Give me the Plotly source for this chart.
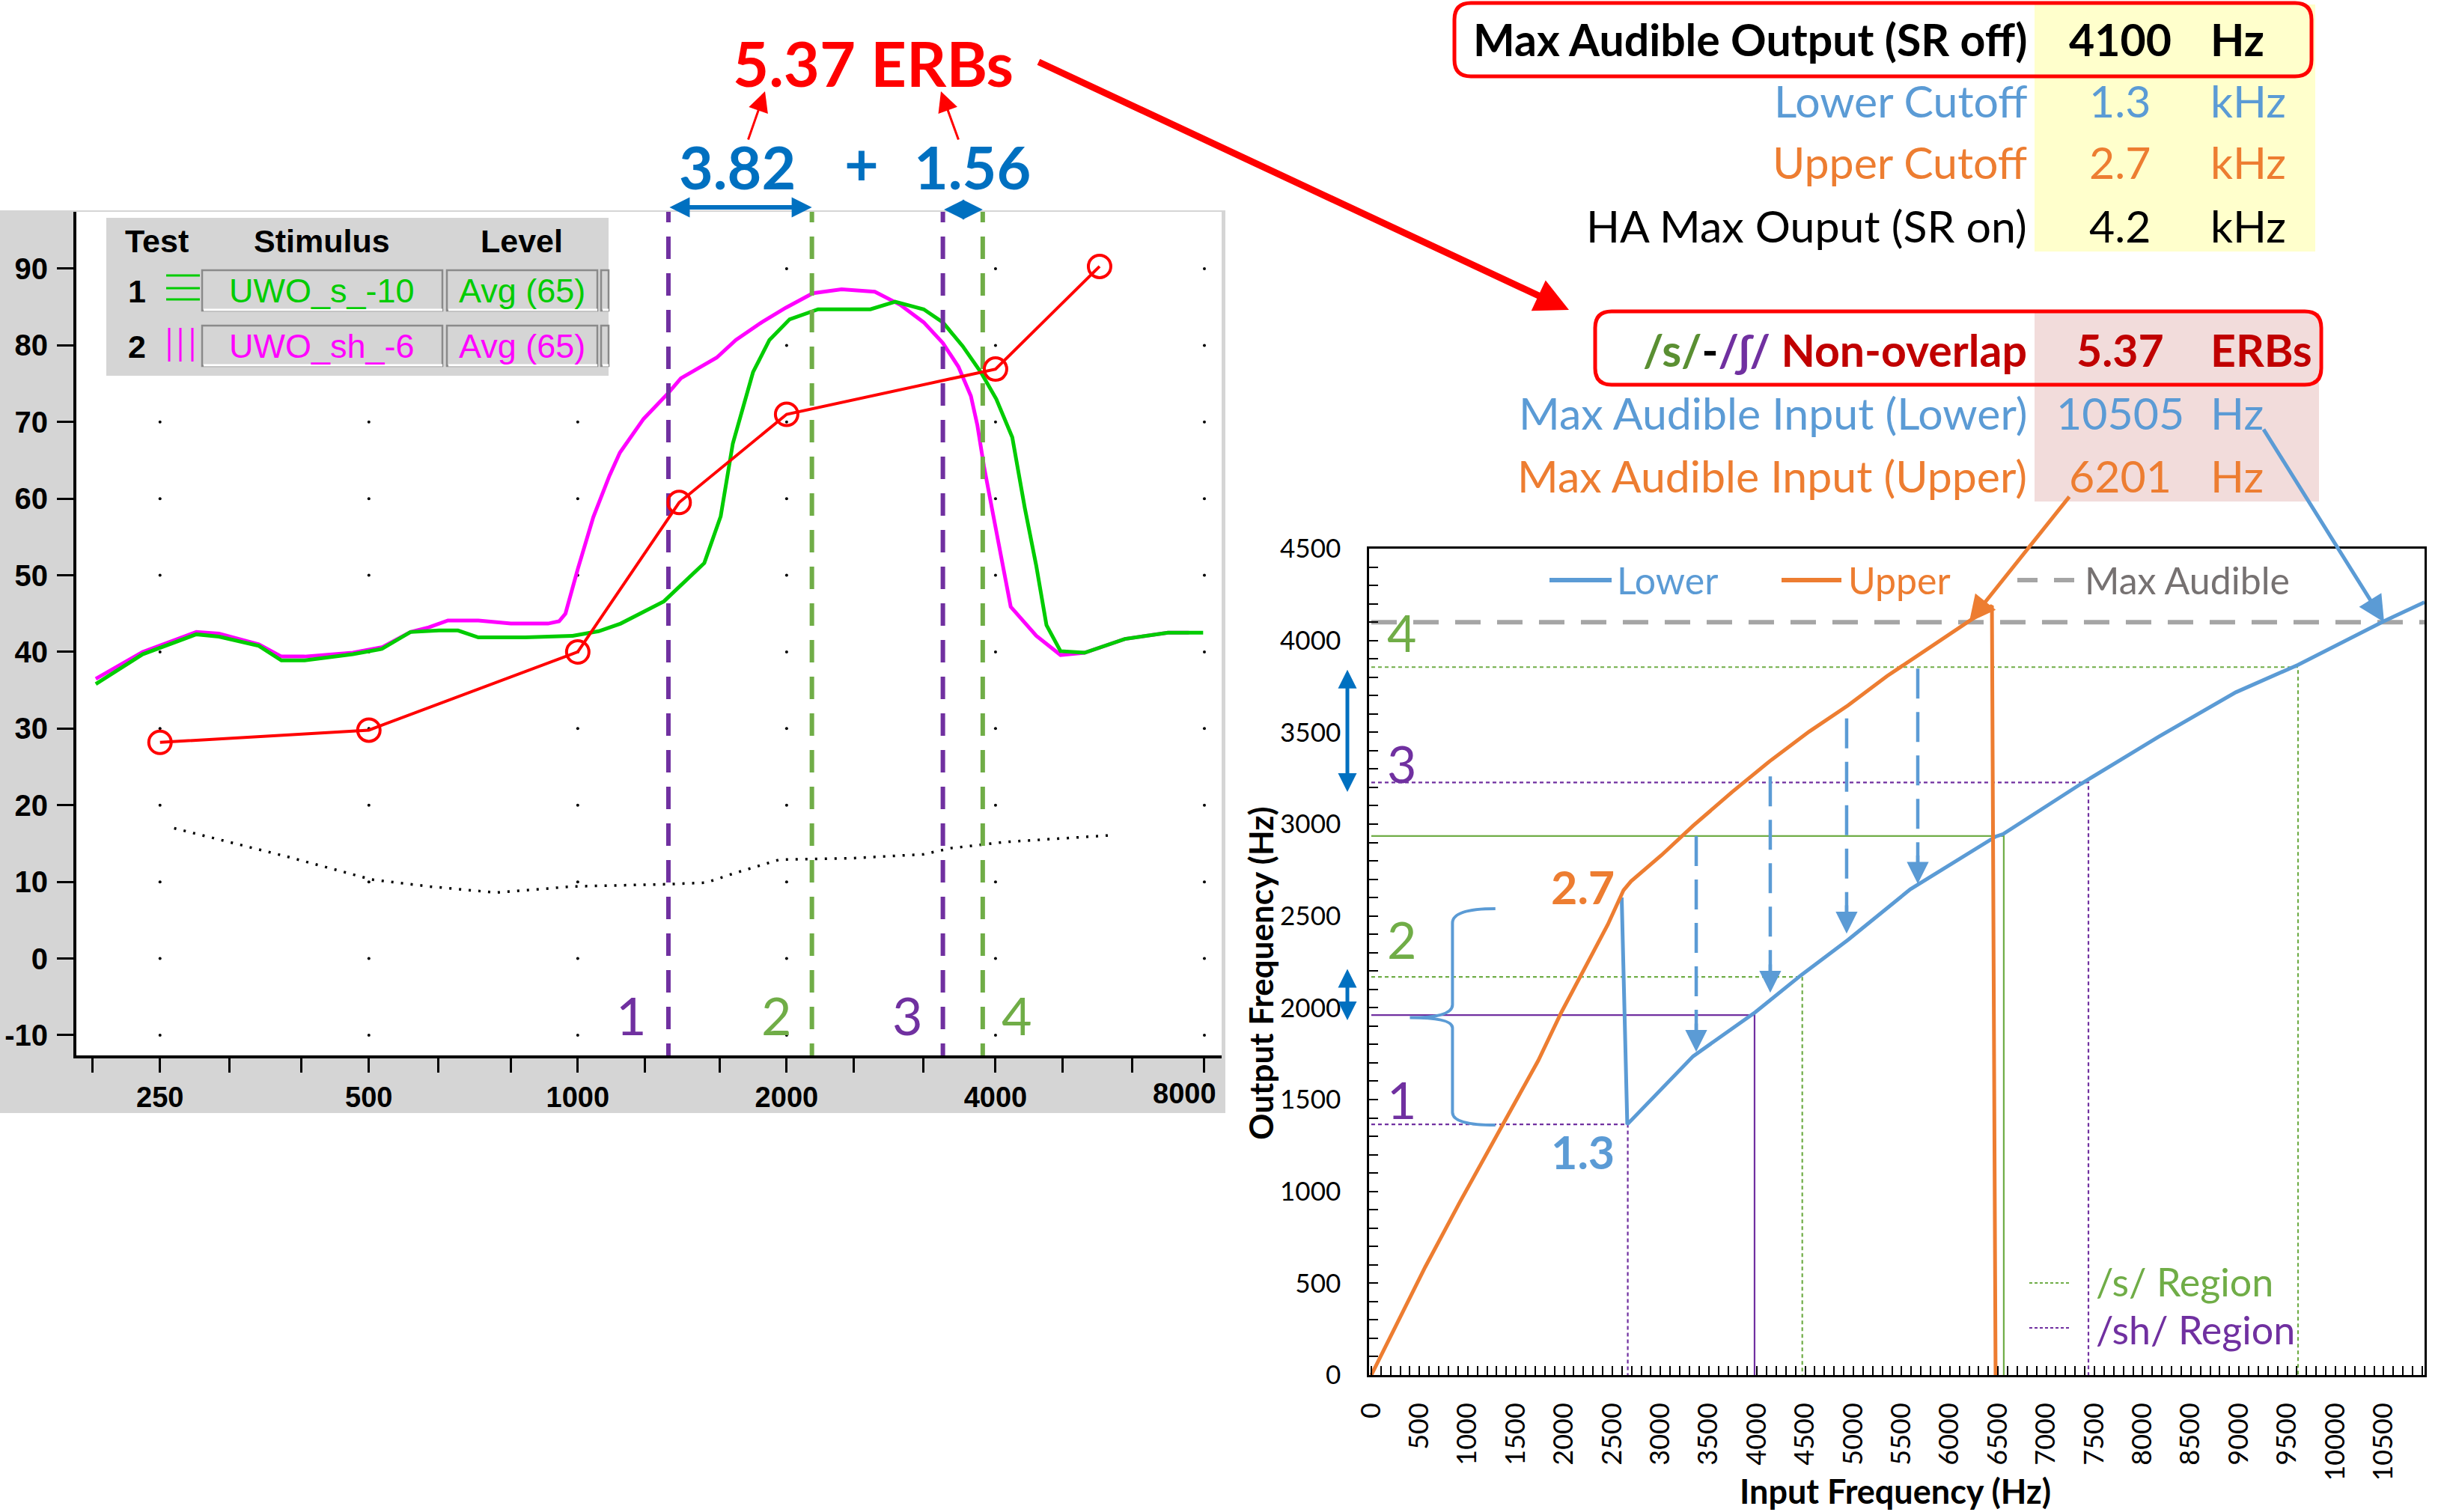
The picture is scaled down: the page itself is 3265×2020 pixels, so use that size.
import numpy as np
import plotly.graph_objects as go

W, H = 3265, 2020
LATO = "Lato, Noto Sans, sans-serif"
ARIAL = "Liberation Sans, Arial, sans-serif"
PURPLE = "#7030a0"
GREEN = "#70ad47"
BLUE = "#5b9bd5"
DBLUE = "#0070c0"
ORANGE = "#ed7d31"
DARKRED = "#c00000"
GREY = "#a5a5a5"

# ---------------- LEFT PANEL DATA (aided speech spectra) ----------------
s_freq = [202, 236, 282, 304, 347, 374, 404, 438, 474, 522, 574, 631, 672, 719, 840, 983,
          1072, 1153, 1331, 1522, 1607, 1673, 1789, 1889, 2020, 2220, 2641, 2867, 3152, 3359,
          3587, 3810, 4010, 4229, 4408, 4580, 4737, 4963, 5376, 6146, 7089, 7967]
s_db = [35.8, 39.7, 42.3, 42.0, 40.8, 38.9, 38.9, 39.3, 39.7, 40.4, 42.6, 42.8, 42.8, 41.9, 41.9, 42.1,
        42.7, 43.7, 46.6, 51.6, 57.7, 67.2, 76.5, 80.7, 83.4, 84.7, 84.7, 85.7, 84.7, 83.0,
        79.9, 76.5, 73.0, 68.0, 58.8, 51.2, 43.5, 40.1, 39.9, 41.7, 42.5, 42.5]
sh_freq = [202, 236, 282, 304, 347, 374, 404, 438, 474, 522, 574, 610, 650, 719, 801, 906, 940, 960,
           1000, 1053, 1111, 1150, 1244, 1351, 1408, 1586, 1690, 1841, 1994, 2182, 2400, 2680, 2914,
           3152, 3359, 3537, 3686, 3766, 3850, 3965, 4207, 4580, 4963, 5376, 6146, 7089, 7600]
sh_db = [36.5, 40.0, 42.6, 42.4, 41.0, 39.4, 39.4, 39.6, 39.9, 40.6, 42.6, 43.2, 44.1, 44.1, 43.7, 43.7, 44.0, 45.0,
         50.8, 57.6, 63.0, 66.0, 70.4, 73.8, 75.7, 78.4, 80.7, 83.0, 84.9, 86.8, 87.3, 87.0, 85.3,
         83.0, 80.3, 77.2, 73.4, 69.6, 64.2, 58.1, 45.9, 42.1, 39.6, 39.9, 41.7, 42.5, 42.5]
thr_freq = [250, 500, 1000, 1400, 2000, 4000, 5650]
thr_db = [28.2, 29.8, 40.0, 59.5, 71.0, 76.9, 90.3]
noise_freq = [262, 325, 381, 505, 611, 762, 984, 1352, 1531, 1691, 1953, 2500, 3152, 3450, 4125, 5909]
noise_db = [17.0, 14.9, 13.3, 10.3, 9.4, 8.6, 9.4, 9.7, 9.9, 11.2, 12.9, 13.1, 13.6, 14.4, 15.2, 16.1]
bound_freq = [1351, 2175, 3359, 3834]
bound_label = ["1", "2", "3", "4"]
bound_color = [PURPLE, GREEN, PURPLE, GREEN]
erb_parts = ["3.82", "1.56"]
erb_total = "5.37 ERBs"
left_xticks = [200, 250, 315, 400, 500, 630, 800, 1000, 1250, 1600, 2000, 2500, 3150, 4000, 5000, 6300, 8000]
left_xlabels = [250, 500, 1000, 2000, 4000, 8000]
left_yticks = list(range(-10, 100, 10))
leg_tests = ["1", "2"]
leg_stimuli = ["UWO_s_-10", "UWO_sh_-6"]
leg_levels = ["Avg (65)", "Avg (65)"]
leg_colors = ["#00cc00", "#ff00ff"]

# ---------------- RIGHT PANEL DATA (frequency lowering) ----------------
upper_in = [0, 559, 924, 1328, 1731, 1972, 2213, 2453, 2616, 2694, 3012, 3338, 3742, 4138, 4542,
            4946, 5349, 5753, 6157, 6437, 6475]
upper_out = [0, 588, 947, 1330, 1712, 1976, 2214, 2453, 2640, 2689, 2832, 2991, 3175, 3345, 3504,
             3647, 3806, 3949, 4091, 4189, 0]
lower_in = [2597, 2655, 3338, 3983, 4464, 4946, 5590, 6475, 6553, 7360, 8168, 8967, 9612, 10497, 10924]
lower_out = [2600, 1365, 1736, 1976, 2180, 2370, 2645, 2932, 2946, 3219, 3476, 3718, 3867, 4104, 4209]
max_aud_in = [0, 10924]
s_dotted = [(9612, 3855), (4470, 2168)]
s_solid = [(6560, 2935)]
sh_dotted = [(7438, 3227), (2660, 1365)]
sh_solid = [(3975, 1960)]
shift_in = [3370, 4138, 4930, 5668]
shift_from = [2935, 3260, 3576, 3847]
shift_to = [1760, 2082, 2404, 2675]
span_ranges = [(3175, 3847), (1932, 2217)]
region_nums = ["4", "3", "2", "1"]
region_num_y = [4046, 3333, 2376, 1504]
region_num_col = [GREEN, PURPLE, GREEN, PURPLE]
cut_labels = ["2.7", "1.3"]
cut_label_y = [2661, 1218]
cut_label_col = [ORANGE, BLUE]

# ---------------- TABLE ----------------
tbl_labels = ["Max Audible Output (SR off)", "Lower Cutoff", "Upper Cutoff", "HA Max Ouput (SR on)",
              "<span style='color:#5a8f32'>/s/</span><span style='color:black'>-</span>"
              "<span style='color:#7030a0'>/ʃ/</span> Non-overlap",
              "Max Audible Input (Lower)", "Max Audible Input (Upper)"]
tbl_values = ["4100", "1.3", "2.7", "4.2", "5.37", "10505", "6201"]
tbl_units = ["Hz", "kHz", "kHz", "kHz", "ERBs", "Hz", "Hz"]
tbl_colors = ["black", BLUE, ORANGE, "black", DARKRED, BLUE, ORANGE]
tbl_bold = [True, False, False, False, True, False, False]
tbl_row_y = [52, 134, 217, 301, 468, 551, 635]

max_audible_out = float(tbl_values[0])
max_in_lower = float(tbl_values[5])
max_in_upper = float(tbl_values[6])


def PX(x):
    return x / W


def PY(y):
    return 1 - y / H


fig = go.Figure()

# ---- left panel traces ----
gx, gy = np.meshgrid(left_xlabels, left_yticks)
fig.add_trace(go.Scatter(x=gx.ravel(), y=gy.ravel(), mode="markers", xaxis="x", yaxis="y",
                         marker=dict(size=4, color="black"), hoverinfo="skip"))
fig.add_trace(go.Scatter(x=noise_freq, y=noise_db, mode="lines", xaxis="x", yaxis="y",
                         line=dict(color="black", width=3.5, dash="3px,10px")))
fig.add_trace(go.Scatter(x=sh_freq, y=sh_db, mode="lines", name=leg_stimuli[1], xaxis="x", yaxis="y",
                         line=dict(color=leg_colors[1], width=5)))
fig.add_trace(go.Scatter(x=s_freq, y=s_db, mode="lines", name=leg_stimuli[0], xaxis="x", yaxis="y",
                         line=dict(color=leg_colors[0], width=5)))
for f, c in zip(bound_freq, bound_color):
    fig.add_trace(go.Scatter(x=[f, f], y=[-14, 100], mode="lines", xaxis="x", yaxis="y",
                             line=dict(color=c, width=6, dash="30px,19px")))
fig.add_trace(go.Scatter(x=thr_freq, y=thr_db, mode="lines+markers", xaxis="x", yaxis="y",
                         line=dict(color="#ff0000", width=4),
                         marker=dict(symbol="circle-open", size=30, color="#ff0000", line=dict(width=4))))

# ---- right panel traces ----
def region_trace(pts, color, dash):
    for xi, yo in pts:
        fig.add_trace(go.Scatter(x=[0, xi, xi], y=[yo, yo, 0], mode="lines", xaxis="x2", yaxis="y2",
                                 line=dict(color=color, width=2.2, dash=dash)))


region_trace(s_dotted, GREEN, "5px,4px")
region_trace(s_solid, GREEN, "solid")
region_trace(sh_dotted, PURPLE, "5px,4px")
region_trace(sh_solid, PURPLE, "solid")
fig.add_trace(go.Scatter(x=max_aud_in, y=[max_audible_out] * 2, mode="lines", name="Max Audible",
                         xaxis="x2", yaxis="y2", line=dict(color=GREY, width=6, dash="34px,22px")))
for xi, y0, y1 in zip(shift_in, shift_from, shift_to):
    fig.add_trace(go.Scatter(x=[xi, xi], y=[y0, y1 + 90], mode="lines", xaxis="x2", yaxis="y2",
                             line=dict(color=BLUE, width=4.5, dash="40px,18px")))
fig.add_trace(go.Scatter(x=lower_in, y=lower_out, mode="lines", name="Lower", xaxis="x2", yaxis="y2",
                         line=dict(color=BLUE, width=5)))
fig.add_trace(go.Scatter(x=upper_in, y=upper_out, mode="lines", name="Upper", xaxis="x2", yaxis="y2",
                         line=dict(color=ORANGE, width=5)))

shapes = []
annotations = []


def rect(x0, y0, x1, y1, fill, line=None, lw=0, layer="below"):
    shapes.append(dict(type="rect", xref="paper", yref="paper", x0=PX(x0), x1=PX(x1), y0=PY(y1), y1=PY(y0),
                       fillcolor=fill, line=dict(color=line or fill, width=lw), layer=layer))


def pline(x0, y0, x1, y1, color, lw, layer="above"):
    shapes.append(dict(type="line", xref="paper", yref="paper", x0=PX(x0), x1=PX(x1), y0=PY(y0), y1=PY(y1),
                       line=dict(color=color, width=lw), layer=layer))


def rrect(x0, y0, x1, y1, r, color, lw):
    X0, X1 = PX(x0), PX(x1)
    Y0, Y1 = PY(y0), PY(y1)
    rx, ry = r / W, r / H
    p = (f"M{X0+rx},{Y0} L{X1-rx},{Y0} Q{X1},{Y0} {X1},{Y0-ry} L{X1},{Y1+ry} Q{X1},{Y1} {X1-rx},{Y1} "
         f"L{X0+rx},{Y1} Q{X0},{Y1} {X0},{Y1+ry} L{X0},{Y0-ry} Q{X0},{Y0} {X0+rx},{Y0} Z")
    shapes.append(dict(type="path", xref="paper", yref="paper", path=p, line=dict(color=color, width=lw),
                       layer="above"))


def text(t, x, y, size, color, bold=False, xanchor="center", yanchor="middle", family=LATO, angle=0):
    annotations.append(dict(text=t, x=PX(x), y=PY(y), xref="paper", yref="paper", showarrow=False,
                            xanchor=xanchor, yanchor=yanchor, textangle=angle,
                            font=dict(size=size, color=color, family=family,
                                      weight="bold" if bold else "normal")))


def parrow(hx, hy, tx, ty, color, lw, size, head=2, side="end"):
    annotations.append(dict(text="", x=PX(hx), y=PY(hy), xref="paper", yref="paper", ax=tx - hx, ay=ty - hy,
                            showarrow=True, arrowhead=head, arrowsize=size, arrowwidth=lw, arrowcolor=color,
                            arrowside=side, standoff=0, startstandoff=0))


# ---- left panel background ----
rect(0, 281, 1637, 1487, "#d5d5d5")
rect(102, 283, 1632, 1410, "white")

# legend table (left)
rect(142, 291, 813, 502, "#d5d5d5", layer="above")
text("Test", 209, 322, 43, "black", bold=True, family=ARIAL)
text("Stimulus", 430, 322, 43, "black", bold=True, family=ARIAL)
text("Level", 697, 322, 43, "black", bold=True, family=ARIAL)
row_top = [361, 435]
for i in range(2):
    y0 = row_top[i]
    y1 = y0 + 54
    ym = (y0 + y1) / 2
    for bx0, bx1 in [(270, 591), (597, 798), (803, 813)]:
        rect(bx0, y0, bx1, y1, "#d5d5d5", "#8a8a8a", 2.5, layer="above")
        pline(bx0 + 2, y1 - 1, bx1, y1 - 1, "white", 3)
    text(leg_tests[i], 183, ym + 1, 43, "black", bold=True, family=ARIAL)
    text(leg_stimuli[i], 430, ym + 1, 45, leg_colors[i], family=ARIAL)
    text(leg_levels[i], 697, ym + 1, 45, leg_colors[i], family=ARIAL)
for yy in [368, 385, 400]:
    pline(222, yy, 267, yy, leg_colors[0], 3)
for xx in [226, 241, 257]:
    pline(xx, 438, xx, 483, leg_colors[1], 3)

# rightmost x label of the left panel sits pulled in from the panel edge
text(str(left_xlabels[-1]), 1582, 1461, 38, "black", bold=True, family=ARIAL)

# region numbers along bottom of left panel
lab_x = [843, 1037, 1212, 1358]
for t, c, xx in zip(bound_label, bound_color, lab_x):
    text(t, xx, 1356, 70, c)

# top annotations over left panel
text(erb_total, 1166, 84, 83, "#ff0000", bold=True)
text(erb_parts[0], 985, 223, 79, DBLUE, bold=True)
text("+", 1151, 218, 79, DBLUE, bold=True)
text(erb_parts[1], 1299, 223, 79, DBLUE, bold=True)
parrow(1022, 122, 999, 188, "#ff0000", 3, 1.8)
parrow(1257, 122, 1281, 188, "#ff0000", 3, 1.8)
parrow(2096, 414, 1386, 82, "#ff0000", 9, 1.0)
for (fa, fb), yy in zip([(bound_freq[0], bound_freq[1]), (bound_freq[2], bound_freq[3])], [277, 280]):
    annotations.append(dict(text="", x=np.log10(fb), y=PY(yy), xref="x", yref="paper",
                            ax=np.log10(fa), axref="x", ay=0, showarrow=True, arrowhead=2,
                            arrowsize=0.9, arrowwidth=6, arrowcolor=DBLUE, arrowside="end+start",
                            standoff=0, startstandoff=0))

# ---- table (top right) ----
rect(2718, 6, 3093, 336, "#ffffcc")
rect(2718, 418, 3098, 670, "#f2dcdb")
rrect(1943, 4, 3088, 102, 22, "#ff0000", 5)
rrect(2131, 416, 3101, 514, 22, "#ff0000", 5)
for lab, val, unit, col, b, yy in zip(tbl_labels, tbl_values, tbl_units, tbl_colors, tbl_bold, tbl_row_y):
    text(lab, 2710, yy, 59, col, bold=b, xanchor="right")
    text(val, 2832, yy, 59, col, bold=b)
    text(unit, 2951, yy, 59, col, bold=b, xanchor="left")

# ---- right panel extras ----
# legend
pline(2070, 775, 2153, 775, BLUE, 6)
text("Lower", 2158, 775, 50, BLUE, xanchor="left")
pline(2380, 775, 2460, 775, ORANGE, 6)
text("Upper", 2467, 775, 50, ORANGE, xanchor="left")
pline(2695, 775, 2722, 775, GREY, 6)
pline(2744, 775, 2771, 775, GREY, 6)
text("Max Audible", 2783, 775, 50, "#767171", xanchor="left")
# region legend
shapes.append(dict(type="line", xref="paper", yref="paper", x0=PX(2711), x1=PX(2765), y0=PY(1714), y1=PY(1714),
                   line=dict(color=GREEN, width=2, dash="4px,3px")))
shapes.append(dict(type="line", xref="paper", yref="paper", x0=PX(2711), x1=PX(2765), y0=PY(1774), y1=PY(1774),
                   line=dict(color=PURPLE, width=2, dash="4px,3px")))
text("/s/ Region", 2798, 1712, 52, GREEN, xanchor="left")
text("/sh/ Region", 2798, 1776, 52, PURPLE, xanchor="left")
# axis titles
text("Output Frequency (Hz)", 1684, 1300, 44, "black", bold=True, angle=-90)
text("Input Frequency (Hz)", 2532, 1992, 45, "black", bold=True)

# region numbers and cutoff labels in right panel (data coords)
for t, yv, c in zip(region_nums, region_num_y, region_num_col):
    annotations.append(dict(text=t, x=318, y=yv, xref="x2", yref="y2", showarrow=False,
                            font=dict(size=68, color=c, family=LATO)))
for t, yv, c in zip(cut_labels, cut_label_y, cut_label_col):
    annotations.append(dict(text=t, x=2540, y=yv, xref="x2", yref="y2", showarrow=False, xanchor="right",
                            font=dict(size=61, color=c, family=LATO, weight="bold")))

# dashed shift arrowheads
for xi, y1 in zip(shift_in, shift_to):
    annotations.append(dict(text="", x=xi, y=y1, xref="x2", yref="y2", ax=xi, ay=y1 + 160,
                            axref="x2", ayref="y2", showarrow=True, arrowhead=2, arrowsize=1.3,
                            arrowwidth=4.5, arrowcolor=BLUE, standoff=0))
# double arrows beside y axis
for lo, hi in span_ranges:
    annotations.append(dict(text="", x=PX(1800), y=lo, xref="paper", yref="y2", ax=0, ay=hi,
                            ayref="y2", showarrow=True, arrowhead=2, arrowsize=1.0, arrowwidth=5,
                            arrowcolor=DBLUE, arrowside="end+start", standoff=0, startstandoff=0))
# arrows from table to max-audible crossings
annotations.append(dict(text="", x=max_in_upper, y=max_audible_out, xref="x2", yref="y2", ax=135, ay=-169,
                        showarrow=True, arrowhead=2, arrowsize=1.4, arrowwidth=5, arrowcolor=ORANGE, standoff=0))
annotations.append(dict(text="", x=max_in_lower, y=max_audible_out, xref="x2", yref="y2", ax=-162, ay=-259,
                        showarrow=True, arrowhead=2, arrowsize=1.4, arrowwidth=5, arrowcolor=BLUE, standoff=0))
# brace
shapes.append(dict(type="path", xref="x2", yref="y2",
                   path="M1287,2539 Q842,2539 842,2461 L842,2017 Q842,1946 400,1946 "
                        "Q842,1946 842,1890 L842,1431 Q842,1361 1287,1361",
                   line=dict(color=BLUE, width=4), layer="above"))

fig.update_layout(
    width=W, height=H, margin=dict(l=0, r=0, t=0, b=0, autoexpand=False),
    paper_bgcolor="white", plot_bgcolor="rgba(0,0,0,0)", showlegend=False,
    shapes=shapes, annotations=annotations,
    xaxis=dict(type="log", domain=[PX(102), PX(1632)], range=[np.log10(189.4), np.log10(8471)], anchor="y",
               tickmode="array", tickvals=left_xticks, automargin=False,
               ticktext=[str(v) if v in left_xlabels[:-1] else "" for v in left_xticks],
               ticks="outside", ticklen=19, tickwidth=3, tickcolor="black",
               showline=True, linewidth=4, linecolor="black", showgrid=False, zeroline=False,
               tickfont=dict(family=ARIAL, size=38, color="black", weight="bold")),
    yaxis=dict(domain=[PY(1410), PY(283)], range=[-12.64, 97.42], anchor="x", automargin=False,
               tickmode="array", tickvals=left_yticks, ticktext=[str(v) for v in left_yticks],
               ticks="outside", ticklen=22, tickwidth=3,
               tickcolor="black", showline=True, linewidth=4, linecolor="black", showgrid=False,
               zeroline=False, ticklabelstandoff=4,
               tickfont=dict(family=ARIAL, size=40, color="black", weight="bold")),
    xaxis2=dict(domain=[PX(1829), PX(3239)], range=[-23, 10924], anchor="y2", automargin=False,
                tickmode="linear", tick0=0, dtick=500, tickangle=-90, tickformat="d",
                ticks="inside", ticklen=12,
                tickwidth=1.5, tickcolor="black", minor=dict(ticks="inside", dtick=100, ticklen=12,
                                                            tickwidth=1.5, tickcolor="black"),
                showline=True, mirror=True, linewidth=2.5, linecolor="black", showgrid=False,
                zeroline=False, ticklabelstandoff=20,
                tickfont=dict(family=LATO, size=36, color="black")),
    yaxis2=dict(domain=[PY(1837), PY(733)], range=[0, 4500], anchor="x2", automargin=False,
                tickmode="linear", tick0=0, dtick=500, tickformat="d", ticks="inside", ticklen=12,
                tickwidth=1.5, tickcolor="black", minor=dict(ticks="inside", dtick=100, ticklen=12,
                                                             tickwidth=1.5, tickcolor="black"),
                showline=True, mirror=True, linewidth=2.5, linecolor="black", showgrid=False,
                zeroline=False, ticklabelstandoff=28,
                tickfont=dict(family=LATO, size=35, color="black")),
)

fig.write_html("out.html")
